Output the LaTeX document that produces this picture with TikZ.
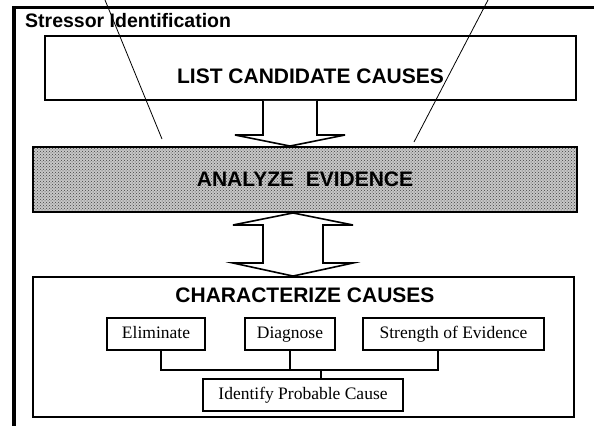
\documentclass[tikz,border=0pt]{standalone}
\usepackage{fontspec}
\setmainfont{Liberation Serif}
\setsansfont{Liberation Sans}
\usetikzlibrary{patterns}

\begin{document}
\begin{tikzpicture}[x = 1pt, y = -1pt,
    bigbox/.style = {draw, line width = 1.9pt, rectangle, inner sep = 0pt},
    bigtext/.style = {font = \sffamily\bfseries\fontsize{21}{24}\selectfont},
    subbox/.style = {draw, line width = 1.6pt, rectangle, inner sep = 0pt,
                     minimum height = 32pt, text height = 12pt, text depth = 4pt,
                     font = \fontsize{17.5}{20}\selectfont},
    blockarrow/.style = {draw, fill = white, line width = 1.6pt, line join = miter}]
  \useasboundingbox (0,0) rectangle (594,426);

  % outer frame
  \draw [line width = 3.5pt] (594,7.5) -| (14,426);
  \node [anchor = base west, inner sep = 0pt,
        font = \sffamily\bfseries\fontsize{19.5}{22}\selectfont]
        (title) at (25,27) {Stressor Identification};

  \node [bigbox, bigtext, minimum width = 531pt, minimum height = 64pt,
        text height = 30pt, text depth = 0pt]
        (list) at (310.5,68) {LIST CANDIDATE CAUSES};
  \node [bigbox, bigtext, preaction = {fill = black!22},
        pattern = crosshatch dots, pattern color = black!75,
        minimum width = 544pt, minimum height = 65pt]
        (analyze) at (305,179.5) {ANALYZE\ \ EVIDENCE};
  \node [bigbox, minimum width = 541pt, minimum height = 140pt]
        (charbox) at (303.5,347) {};
  \node [bigtext] (chartitle) at (305,295) {CHARACTERIZE CAUSES};

  \draw [blockarrow] (list.south -| 263,0) -- (263,135) -- (235,135)
        -- (analyze.north -| 290,0) -- (345,135) -- (317,135)
        -- (list.south -| 317,0);
  \draw [blockarrow] (analyze.south -| 293,0) -- (353,225) -- (323,225)
        -- (323,263) -- (353,263) -- (charbox.north -| 293,0) -- (233,263)
        -- (263,263) -- (263,225) -- (233,225) -- cycle;

  \foreach \x/\w/\txt [count = \id] in {
    156/98/Eliminate,
    290/90/Diagnose,
    453.5/181/{Strength of Evidence}
  } \node [subbox, minimum width = \w pt] (sub\id) at (\x,334) {\txt};
  \node [subbox, minimum width = 200pt] (cause) at (303,395)
        {Identify Probable Cause};

  \coordinate (bus) at (321,370);
  \draw [line width = 1.4pt] ([xshift = 5pt]sub1.south) |- (bus)
        -| ([xshift = -15.5pt]sub3.south);
  \draw [line width = 1.4pt] (sub2.south) -- (sub2.south |- bus);
  \draw [line width = 1.4pt] (bus) -- (bus |- cause.north);

  % pointer lines
  \coordinate (lefttop) at (105,0);
  \coordinate (leftend) at (162,139);
  \coordinate (righttop) at (488,0);
  \coordinate (rightend) at (414,142);
  \draw [line width = 0.8pt] (lefttop) -- (leftend);
  \draw [line width = 0.8pt] (righttop) -- (rightend);
\end{tikzpicture}
\end{document}
